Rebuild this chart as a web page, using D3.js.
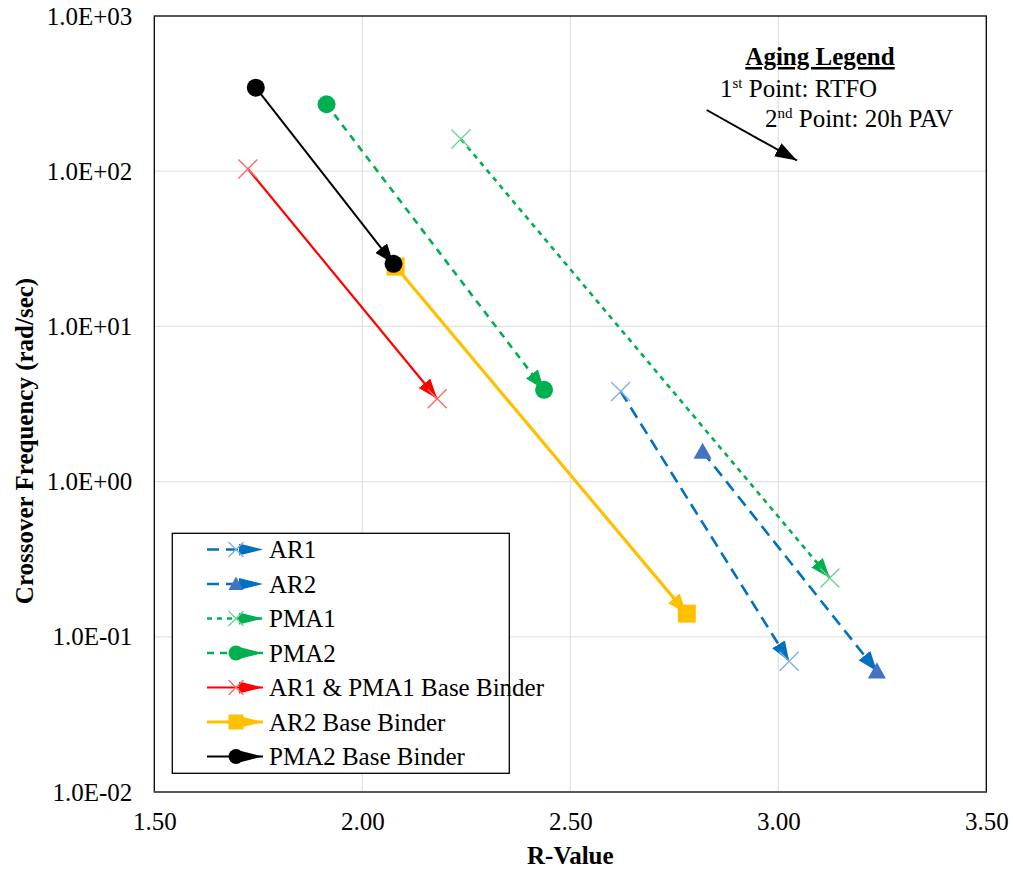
<!DOCTYPE html>
<html>
<head>
<meta charset="utf-8">
<script src="https://cdn.jsdelivr.net/npm/d3@7"></script>
<style>
  html, body { margin: 0; padding: 0; background: #fff; }
  svg { display: block; }
  svg text { font-family: "Liberation Serif", "Times New Roman", Times, "DejaVu Serif", serif; }
</style>
</head>
<body>
<svg id="chart" width="1013" height="871"></svg>
<script>
// Binder series: R-value and crossover frequency after RTFO (1st point) and 20h PAV (2nd point)
const seriesNames = ["AR1", "AR2", "PMA1", "PMA2", "AR1 & PMA1 Base Binder", "AR2 Base Binder", "PMA2 Base Binder"];
const rRTFO    = [2.621, 2.818, 2.237, 1.914, 1.725, 2.080, 1.744];
const rPAV     = [3.026, 3.237, 3.124, 2.437, 2.180, 2.780, 2.075];
const freqRTFO = [3.81, 1.56, 161, 270, 103.5, 24.3, 345];
const freqPAV  = [0.0695, 0.060, 0.239, 3.9, 3.42, 0.141, 25.3];

const xTicks = [1.5, 2.0, 2.5, 3.0, 3.5];
const yTicks = [0.01, 0.1, 1, 10, 100, 1000];

// Styling per series
const styles = [
  { line: "#0070c0", width: 2.6, dash: "12,7", marker: "x", mcolor: "#7fb2e0", msize: 19 },
  { line: "#0070c0", width: 2.6, dash: "12,7", marker: "tri", mcolor: "#4472c4", msize: 18 },
  { line: "#00b050", width: 2.6, dash: "5,5", marker: "x", mcolor: "#6fd39a", msize: 19 },
  { line: "#00b050", width: 2.6, dash: "7,6", marker: "circle", mcolor: "#00b050", msize: 18 },
  { line: "#ff0000", width: 2.2, dash: null, marker: "x", mcolor: "#ff6b6b", msize: 19 },
  { line: "#ffc000", width: 3.2, dash: null, marker: "square", mcolor: "#ffc000", msize: 18 },
  { line: "#000000", width: 2.0, dash: null, marker: "circle", mcolor: "#000000", msize: 18 }
];

const FONT = '"Liberation Serif", "Times New Roman", Times, "DejaVu Serif", serif';
const svg = d3.select("#chart").attr("font-family", FONT);
const plot = { left: 154.3, right: 986.3, top: 16, bottom: 792 };

const x = d3.scaleLinear().domain([1.5, 3.5]).range([plot.left, plot.right]);
const y = d3.scaleLog().domain([0.01, 1000]).range([plot.bottom, plot.top]);

// Arrowhead definitions: plot-size and legend-size, one per colour
const defs = svg.append("defs");
const arrowColors = Array.from(new Set(styles.map(s => s.line)));
function addArrow(id, color, len, wid) {
  defs.append("marker")
    .attr("id", id)
    .attr("markerUnits", "userSpaceOnUse")
    .attr("viewBox", `0 0 ${len} ${wid}`)
    .attr("markerWidth", len).attr("markerHeight", wid)
    .attr("refX", len).attr("refY", wid / 2)
    .attr("orient", "auto")
    .append("path")
    .attr("d", `M0,0 L${len},${wid / 2} L0,${wid} Z`)
    .attr("fill", color);
}
arrowColors.forEach((c, i) => {
  addArrow("arrow" + i, c, 20, 15);
  addArrow("larrow" + i, c, 24, 12);
});
addArrow("agingArrow", "#000", 22, 15);
const arrowId = c => "url(#arrow" + arrowColors.indexOf(c) + ")";
const legArrowId = c => "url(#larrow" + arrowColors.indexOf(c) + ")";

// Gridlines
const grid = svg.append("g");
grid.selectAll("line.gx").data(xTicks.slice(1, -1)).join("line")
  .attr("x1", d => x(d)).attr("x2", d => x(d))
  .attr("y1", plot.top).attr("y2", plot.bottom)
  .attr("stroke", "#e3e3e3").attr("stroke-width", 1.3);
grid.selectAll("line.gy").data(yTicks.slice(1, -1)).join("line")
  .attr("x1", plot.left).attr("x2", plot.right)
  .attr("y1", d => y(d)).attr("y2", d => y(d))
  .attr("stroke", "#e3e3e3").attr("stroke-width", 1.3);

// Plot frame
svg.append("rect")
  .attr("x", plot.left).attr("y", plot.top)
  .attr("width", plot.right - plot.left).attr("height", plot.bottom - plot.top)
  .attr("fill", "none").attr("stroke", "#000").attr("stroke-width", 1.3);
svg.append("line")
  .attr("x1", plot.left).attr("x2", plot.right)
  .attr("y1", plot.bottom).attr("y2", plot.bottom)
  .attr("stroke", "#595959").attr("stroke-width", 2);

// Axes (labels only)
const fmtY = d => {
  const e = Math.round(Math.log10(d));
  return "1.0E" + (e < 0 ? "-" : "+") + String(Math.abs(e)).padStart(2, "0");
};
const yAxis = d3.axisLeft(y).tickValues(yTicks).tickFormat(fmtY).tickSize(0).tickPadding(22);
const gy = svg.append("g").attr("transform", `translate(${plot.left},0)`).call(yAxis);
gy.attr("font-family", FONT);
gy.select(".domain").remove();
gy.selectAll("text").attr("font-size", 25).attr("fill", "#000");

const xAxis = d3.axisBottom(x).tickValues(xTicks).tickFormat(d3.format(".2f")).tickSize(0).tickPadding(20);
const gx = svg.append("g").attr("transform", `translate(0,${plot.bottom})`).call(xAxis);
gx.attr("font-family", FONT);
gx.select(".domain").remove();
gx.selectAll("text").attr("font-size", 25).attr("fill", "#000");

// Axis titles
svg.append("text")
  .attr("x", (plot.left + plot.right) / 2).attr("y", 864)
  .attr("text-anchor", "middle")
  .attr("font-size", 25).attr("font-weight", "bold")
  .text("R-Value");
svg.append("text")
  .attr("transform", "translate(33,441) rotate(-90)")
  .attr("text-anchor", "middle")
  .attr("font-size", 25).attr("font-weight", "bold")
  .text("Crossover Frequency (rad/sec)");

// Marker drawing helper
function drawMarker(g, type, cx, cy, color, size) {
  const h = size / 2;
  if (type === "x") {
    g.append("path")
      .attr("d", `M${cx - h},${cy - h} L${cx + h},${cy + h} M${cx - h},${cy + h} L${cx + h},${cy - h}`)
      .attr("stroke", color).attr("stroke-width", 1.4).attr("fill", "none");
  } else if (type === "circle") {
    g.append("circle").attr("cx", cx).attr("cy", cy).attr("r", h).attr("fill", color);
  } else if (type === "square") {
    g.append("rect").attr("x", cx - h).attr("y", cy - h).attr("width", size).attr("height", size).attr("fill", color);
  } else if (type === "tri") {
    g.append("path")
      .attr("d", `M${cx},${cy - h} L${cx + h},${cy + h * 0.8} L${cx - h},${cy + h * 0.8} Z`)
      .attr("fill", color);
  }
}

// Series: line with arrow from RTFO to PAV, markers at both points
const seriesG = svg.append("g");
seriesNames.forEach((name, i) => {
  const s = styles[i];
  const g = seriesG.append("g");
  const x1 = x(rRTFO[i]), y1 = y(freqRTFO[i]), x2 = x(rPAV[i]), y2 = y(freqPAV[i]);
  g.append("line")
    .attr("x1", x1).attr("y1", y1).attr("x2", x2).attr("y2", y2)
    .attr("stroke", s.line).attr("stroke-width", s.width)
    .attr("stroke-dasharray", s.dash)
    .attr("marker-end", arrowId(s.line));
  drawMarker(g, s.marker, x1, y1, s.mcolor, s.msize);
  drawMarker(g, s.marker, x2, y2, s.mcolor, s.msize);
});

// Series legend box
const leg = { x: 172.3, y: 533.3, w: 337, h: 240, row0: 549.5, step: 34.5 };
svg.append("rect")
  .attr("x", leg.x).attr("y", leg.y).attr("width", leg.w).attr("height", leg.h)
  .attr("fill", "#fff").attr("stroke", "#000").attr("stroke-width", 1.3);
seriesNames.forEach((name, i) => {
  const s = styles[i];
  const cy = leg.row0 + i * leg.step;
  const g = svg.append("g");
  g.append("line")
    .attr("x1", 207).attr("x2", 263).attr("y1", cy).attr("y2", cy)
    .attr("stroke", s.line).attr("stroke-width", s.width)
    .attr("stroke-dasharray", s.dash)
    .attr("marker-end", legArrowId(s.line));
  drawMarker(g, s.marker, 236, cy, s.mcolor, 15);
  g.append("text")
    .attr("x", 269).attr("y", cy).attr("dy", "0.35em")
    .attr("font-size", 25).text(name);
});

// Aging legend annotation
svg.append("text")
  .attr("x", 820).attr("y", 65)
  .attr("text-anchor", "middle")
  .attr("font-size", 25).attr("font-weight", "bold")
  .attr("text-decoration", "underline")
  .text("Aging Legend");
const t1 = svg.append("text").attr("x", 720).attr("y", 97).attr("font-size", 25);
t1.append("tspan").text("1");
t1.append("tspan").attr("font-size", 15).attr("dy", -9).text("st");
t1.append("tspan").attr("dy", 9).text(" Point: RTFO");
const t2 = svg.append("text").attr("x", 765).attr("y", 127).attr("font-size", 25);
t2.append("tspan").text("2");
t2.append("tspan").attr("font-size", 15).attr("dy", -9).text("nd");
t2.append("tspan").attr("dy", 9).text(" Point: 20h PAV");
svg.append("line")
  .attr("x1", 706.7).attr("y1", 110).attr("x2", 797).attr("y2", 160.5)
  .attr("stroke", "#000").attr("stroke-width", 2)
  .attr("marker-end", "url(#agingArrow)");
</script>
</body>
</html>
